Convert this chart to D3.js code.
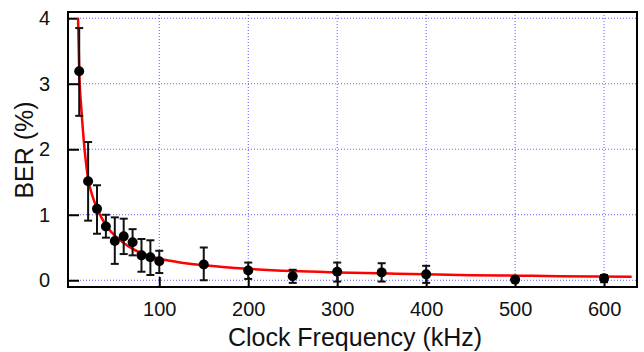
<!DOCTYPE html>
<html>
<head>
<meta charset="utf-8">
<script src="https://cdn.jsdelivr.net/npm/d3@7"></script>
<style>
  html, body { margin: 0; padding: 0; background: #fff; }
  svg { display: block; font-family: "Liberation Sans", Arial, Helvetica, sans-serif; }
</style>
</head>
<body>
<div id="chart"></div>
<script>
// Measured points (clock frequency in kHz, BER in %)
const freq = [10, 20, 30, 40, 50, 60, 70, 80, 90, 100, 150, 200, 250, 300, 350, 400, 500, 600];
const ber = [3.19, 1.51, 1.09, 0.82, 0.60, 0.67, 0.58, 0.38, 0.35, 0.29, 0.24, 0.15, 0.06, 0.13, 0.12, 0.09, 0.01, 0.03];
const berHigh = [3.85, 2.11, 1.45, 1.00, 0.96, 0.94, 0.78, 0.63, 0.61, 0.45, 0.50, 0.27, 0.16, 0.27, 0.26, 0.22, 0.01, 0.08];
const berLow = [2.51, 0.91, 0.71, 0.65, 0.25, 0.40, 0.38, 0.13, 0.08, 0.11, 0.00, 0.02, -0.04, -0.02, -0.02, -0.04, 0.01, -0.03];

// Fitted curve
const fitFreq = [8.7, 10, 12.5, 15, 20, 25, 30, 40, 50, 60, 70, 85, 100, 120, 150, 200, 250, 300, 350, 400, 450, 500, 550, 631];
const fitBer = [4.0, 3.2, 2.6, 2.15, 1.55, 1.28, 1.1, 0.84, 0.68, 0.57, 0.48, 0.39, 0.33, 0.28, 0.23, 0.175, 0.14, 0.12, 0.105, 0.09, 0.078, 0.07, 0.062, 0.055];

// Axis ticks
const xTicks = [100, 200, 300, 400, 500, 600];
const yTicks = [0, 1, 2, 3, 4];

const width = 644, height = 352;
const plot = {left: 68, right: 637, top: 12, bottom: 287};

const svg = d3.select("#chart").append("svg")
    .attr("width", width)
    .attr("height", height);

const x = d3.scaleLinear().domain([-2.6, 637]).range([plot.left, plot.right]);
const y = d3.scaleLinear().domain([-0.103, 4.095]).range([plot.bottom, plot.top]);

// Dotted blue grid
const grid = svg.append("g");
grid.selectAll(".gx")
    .data(xTicks)
    .enter().append("line")
    .attr("x1", d => x(d)).attr("x2", d => x(d))
    .attr("y1", plot.top).attr("y2", plot.bottom)
    .style("stroke", "#5c5cff")
    .style("stroke-width", 1)
    .style("stroke-dasharray", "1,2");
grid.selectAll(".gy")
    .data(yTicks)
    .enter().append("line")
    .attr("x1", plot.left).attr("x2", plot.right)
    .attr("y1", d => y(d)).attr("y2", d => y(d))
    .style("stroke", "#5c5cff")
    .style("stroke-width", 1)
    .style("stroke-dasharray", "1,2");

// Axes with inward ticks
const xAxis = svg.append("g")
    .attr("transform", `translate(0,${plot.bottom})`)
    .call(d3.axisBottom(x).tickValues(xTicks).tickFormat(d3.format("d"))
        .tickSizeInner(-10).tickSizeOuter(0).tickPadding(15));
const yAxis = svg.append("g")
    .attr("transform", `translate(${plot.left},0)`)
    .call(d3.axisLeft(y).tickValues(yTicks).tickFormat(d3.format("d"))
        .tickSizeInner(-11).tickSizeOuter(0).tickPadding(18));

[xAxis, yAxis].forEach(a => {
    a.select(".domain").remove();
    a.selectAll(".tick line").style("stroke", "#000").style("stroke-width", 2);
    a.selectAll(".tick text")
        .style("font-size", "20px")
        .style("fill", "#111")
        .style("font-family", "'Liberation Sans', Arial, sans-serif");
});

// Clip for curve
svg.append("clipPath").attr("id", "clip")
    .append("rect")
    .attr("x", plot.left).attr("y", plot.top)
    .attr("width", plot.right - plot.left).attr("height", plot.bottom - plot.top);

// Fitted red curve
const line = d3.line()
    .x(d => x(d[0]))
    .y(d => y(d[1]))
    .curve(d3.curveMonotoneX);
svg.append("path")
    .datum(fitFreq.map((f, i) => [f, fitBer[i]]))
    .attr("d", line)
    .attr("clip-path", "url(#clip)")
    .style("fill", "none")
    .style("stroke", "#ff0000")
    .style("stroke-width", 2.5);

// Error bars
const bars = svg.append("g").selectAll("g")
    .data(freq.map((f, i) => ({f, v: ber[i], hi: berHigh[i], lo: berLow[i]})))
    .enter().append("g")
    .filter(d => d.hi - d.lo > 0.001);
bars.append("line")
    .attr("x1", d => x(d.f)).attr("x2", d => x(d.f))
    .attr("y1", d => y(d.hi)).attr("y2", d => y(d.lo))
    .style("stroke", "#111").style("stroke-width", 2);
bars.append("line")
    .attr("x1", d => x(d.f) - 4).attr("x2", d => x(d.f) + 4)
    .attr("y1", d => y(d.hi)).attr("y2", d => y(d.hi))
    .style("stroke", "#111").style("stroke-width", 2);
bars.append("line")
    .attr("x1", d => x(d.f) - 4).attr("x2", d => x(d.f) + 4)
    .attr("y1", d => y(d.lo)).attr("y2", d => y(d.lo))
    .style("stroke", "#111").style("stroke-width", 2);

// Points
svg.append("g").selectAll("circle")
    .data(freq.map((f, i) => [f, ber[i]]))
    .enter().append("circle")
    .attr("cx", d => x(d[0]))
    .attr("cy", d => y(d[1]))
    .attr("r", 5)
    .style("fill", "#000");

// Frame
svg.append("rect")
    .attr("x", plot.left).attr("y", plot.top)
    .attr("width", plot.right - plot.left).attr("height", plot.bottom - plot.top)
    .style("fill", "none")
    .style("stroke", "#000")
    .style("stroke-width", 2);

// Axis titles
svg.append("text")
    .attr("x", 355).attr("y", 346)
    .attr("text-anchor", "middle")
    .style("font-size", "25px")
    .style("fill", "#111")
    .text("Clock Frequency (kHz)");

svg.append("text")
    .attr("transform", "translate(33,150) rotate(-90)")
    .attr("text-anchor", "middle")
    .style("font-size", "25px")
    .style("fill", "#111")
    .text("BER (%)");
</script>
</body>
</html>
